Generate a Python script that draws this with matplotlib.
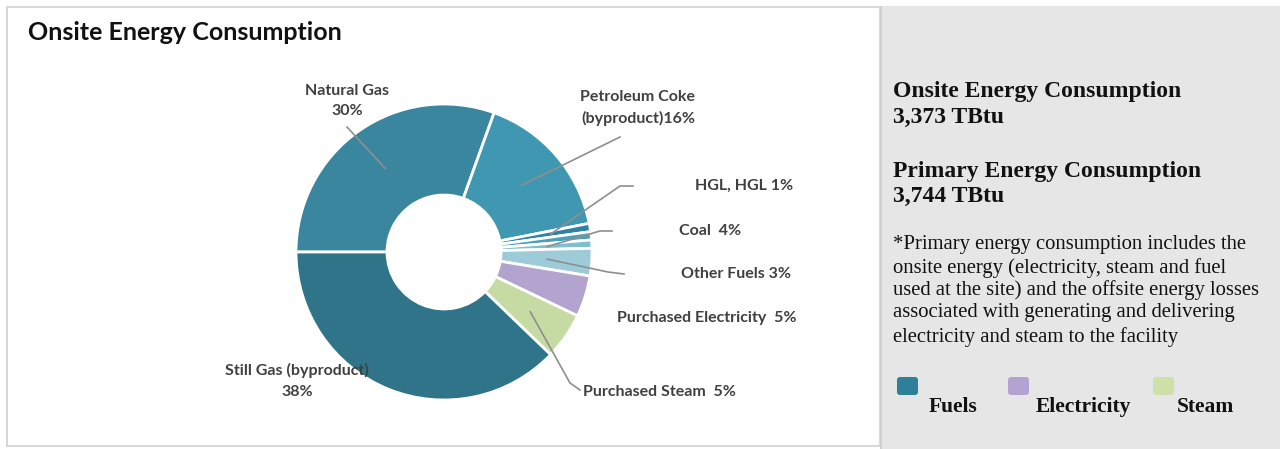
import matplotlib.pyplot as plt
from matplotlib.patches import Rectangle, FancyBboxPatch
import numpy as np

# slices, clockwise from 9 o'clock
slices = ['Natural Gas', 'Petroleum Coke', 'HGL', 'Other', 'Coal', 'Other Fuels',
          'Purchased Electricity', 'Purchased Steam', 'Still Gas']
shares = [30.5, 16.4, 0.9, 0.9, 0.9, 3.0, 4.5, 5.1, 37.8]
slice_colors = ['#3a869e', '#3f97b1', '#2f82a3', '#4a9fba', '#7dbfce', '#9ecbd8',
                '#b3a3cf', '#c6dba3', '#2f7489']
label_text = ['Natural Gas\n30%', 'Petroleum Coke\n(byproduct)16%', 'HGL, HGL 1%', '',
              'Coal  4%', 'Other Fuels 3%', 'Purchased Electricity  5%',
              'Purchased Steam  5%', 'Still Gas (byproduct)\n38%']

legend_names = ['Fuels', 'Electricity', 'Steam']
legend_colors = ['#2e8098', '#b3a3d2', '#cde0a8']

summary = ['Onsite Energy Consumption', '3,373 TBtu',
           'Primary Energy Consumption', '3,744 TBtu']
note = ['*Primary energy consumption includes the',
        'onsite energy (electricity, steam and fuel',
        'used at the site) and the offsite energy losses',
        'associated with generating and delivering',
        'electricity and steam to the facility']

W, H = 1280, 449
fig = plt.figure(figsize=(W / 100, H / 100), dpi=100)
fig.patch.set_facecolor('white')

# background axes in pixel coordinates
bg = fig.add_axes([0, 0, 1, 1])
bg.set_xlim(0, W)
bg.set_ylim(H, 0)
bg.axis('off')
bg.add_patch(Rectangle((7, 7), 873, 439, facecolor='white', edgecolor='#d8d8d8', lw=1.5))
bg.add_patch(Rectangle((880, 6), 400, 445, facecolor='#e6e6e6', edgecolor='none'))
bg.add_patch(Rectangle((880, 6), 1.5, 445, facecolor='#d0d0d0', edgecolor='none'))

lab_font = ['Lato', 'DejaVu Sans']
bg.text(28, 32, 'Onsite Energy Consumption', fontsize=18, fontweight='bold',
        family=lab_font, color='#111111', va='center', ha='left')

# donut
cx, cy, R = 444, 252, 148
half = 1.15 * R
ax = fig.add_axes([(cx - half) / W, (H - cy - half) / H, 2 * half / W, 2 * half / H])
wedges, _ = ax.pie(shares, colors=slice_colors, startangle=180, counterclock=False,
                   radius=1, wedgeprops=dict(width=0.615, edgecolor='white', linewidth=2))
ax.set_xlim(-1.15, 1.15)
ax.set_ylim(-1.15, 1.15)
ax.set_aspect('equal')
ax.axis('off')

# overlay for leaders and labels, above the donut
top = fig.add_axes([0, 0, 1, 1])
top.set_xlim(0, W)
top.set_ylim(H, 0)
top.axis('off')
top.patch.set_alpha(0)


def wedge_point(i, r):
    w = wedges[i]
    a = np.deg2rad((w.theta1 + w.theta2) / 2)
    p = ax.transData.transform((r * np.cos(a), r * np.sin(a)))
    return top.transData.inverted().transform(p)


# leader lines: slice index, radius, then bend points in pixels
leaders = [
    (0, 0.69, [(347, 127)]),
    (1, 0.69, [(620, 137)]),
    (2, 0.73, [(620, 186), (633, 186)]),
    (4, 0.70, [(600, 231), (612, 231)]),
    (5, 0.70, [(608, 272), (624, 274)]),
    (7, 0.71, [(570, 383), (580, 390)]),
]
for i, r, pts in leaders:
    p0 = wedge_point(i, r)
    xs = [p0[0]] + [p[0] for p in pts]
    ys = [p0[1]] + [p[1] for p in pts]
    top.plot(xs, ys, color='#8f8f8f', lw=1.2)

label_pos = [(347, 101, 'center'), (638, 108, 'center'), (695, 186, 'left'), None,
             (679, 231, 'left'), (681, 274, 'left'), (617, 318, 'left'),
             (583, 392, 'left'), (297, 381, 'center')]
for txt, pos in zip(label_text, label_pos):
    if pos is None or not txt:
        continue
    top.text(pos[0], pos[1], txt, ha=pos[2], va='center', fontsize=11.5, fontweight='bold',
             family=lab_font, color='#404040', linespacing=1.6, multialignment='center')

# right panel
serif = ['Liberation Serif', 'DejaVu Serif']
for txt, y in zip(summary, [92, 117, 171, 196]):
    top.text(893, y, txt, fontsize=17, fontweight='bold', family=serif, color='#111111',
             va='center', ha='left')
for txt, y in zip(note, [245, 268, 290, 313, 337]):
    top.text(893, y, txt, fontsize=14.9, family=serif, color='#111111',
             va='center', ha='left')

box_x = [897, 1008, 1153]
lab_x = [953, 1083, 1205]
for name, c, bx, lx in zip(legend_names, legend_colors, box_x, lab_x):
    top.add_patch(FancyBboxPatch((bx, 377), 21, 18, boxstyle='round,pad=0,rounding_size=3',
                                 facecolor=c, edgecolor='none'))
    top.text(lx, 407, name, fontsize=15.5, fontweight='bold', family=serif,
             color='#111111', ha='center', va='center')

fig.savefig('out.png', dpi=100)
